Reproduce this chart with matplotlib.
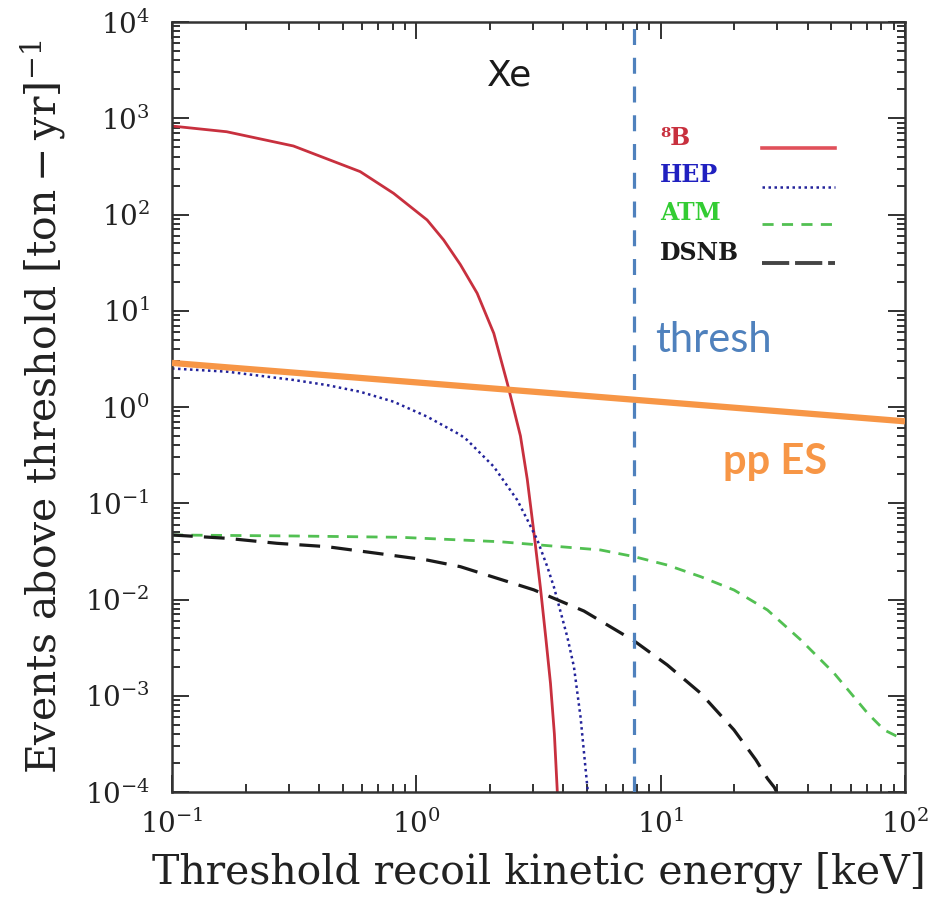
import matplotlib
matplotlib.use("Agg")
import matplotlib.pyplot as plt
from matplotlib.ticker import LogLocator, LogFormatterMathtext, NullFormatter

plt.rcParams['font.family'] = ['DejaVu Serif']
plt.rcParams['mathtext.fontset'] = 'dejavuserif'

# ---- data ----
b8_x = [0.10, 0.1675, 0.314, 0.589, 0.807, 1.107, 1.294, 1.514, 1.774, 2.075, 2.355, 2.667,
        2.844, 3.027, 3.221, 3.388, 3.540, 3.673, 3.776]
b8_y = [830, 724, 515, 279, 166, 87.7, 54.3, 30.2, 15.2, 5.83, 1.78, 0.501,
        0.178, 0.0501, 0.0132, 0.00398, 0.00135, 0.0004, 0.0001]

hep_x = [0.100, 0.1675, 0.314, 0.4305, 0.589, 0.807, 1.107, 1.514, 1.614, 2.075, 2.588, 2.844,
         3.126, 3.436, 3.656, 4.150, 4.416, 4.699, 4.932, 5.035]
hep_y = [2.51, 2.33, 1.91, 1.69, 1.44, 1.135, 0.794, 0.513, 0.454, 0.240, 0.108, 0.0676,
         0.0417, 0.0219, 0.0135, 0.00407, 0.0020, 0.000603, 0.00017, 0.0001]

atm_x = [0.10, 0.316, 0.859, 2.208, 5.675, 7.78, 10.64, 14.59, 19.95, 27.35, 37.5, 51.3,
         70.3, 82.2, 93.3, 100]
atm_y = [0.0468, 0.0457, 0.0443, 0.0398, 0.0327, 0.0279, 0.0228, 0.01726, 0.01256, 0.00778,
         0.00379, 0.00171, 0.000658, 0.000441, 0.000376, 0.000363]

dsnb_x = [0.10, 0.1675, 0.2685, 0.4305, 0.690, 1.107, 1.514, 3.027, 4.853, 7.78, 10.64, 14.59,
          19.95, 24.55, 27.35, 29.17, 29.85]
dsnb_y = [0.0468, 0.04325, 0.03837, 0.0354, 0.0302, 0.0257, 0.02193, 0.01259, 0.00759, 0.00372,
          0.00209, 0.00106, 0.000442, 0.000215, 0.000138, 0.000112, 0.0001]

pp_x = [0.1, 100]
pp_y = [2.87, 0.71]

thresh_x = 7.8

legend_labels = ["\u2078B", "HEP", "ATM", "DSNB"]

# ---- styles ----
c_red = '#c8303e'
c_blue = '#23239a'
c_green = '#52c052'
c_black = '#1a1a1a'
c_orange = '#F79646'
c_thresh = '#4F81BD'

fig = plt.figure(figsize=(9.42, 9.14), dpi=100)
ax = fig.add_axes([172/942, (914-792)/914, (905-172)/942, (792-22)/914])
ax.set_xscale('log')
ax.set_yscale('log')
ax.set_xlim(0.1, 100)
ax.set_ylim(1e-4, 1e4)

ax.plot(b8_x, b8_y, color=c_red, lw=2.0, solid_capstyle='butt', solid_joinstyle='round')
ax.plot(hep_x, hep_y, color=c_blue, lw=1.8, linestyle=(0, (1, 1.4)))
ax.plot(atm_x, atm_y, color=c_green, lw=2.0, linestyle=(0, (4, 3)))
ax.plot(dsnb_x, dsnb_y, color=c_black, lw=2.3, linestyle=(0, (6.5, 3.5)))
ax.plot(pp_x, pp_y, color=c_orange, lw=4.5, solid_capstyle='butt', zorder=4)
ax.axvline(thresh_x, color=c_thresh, lw=2.3, linestyle=(0, (5, 4)), zorder=5)

# ticks
for axis in (ax.xaxis, ax.yaxis):
    axis.set_major_locator(LogLocator(base=10, numticks=20))
    axis.set_minor_locator(LogLocator(base=10, subs=range(2, 10), numticks=100))
    axis.set_major_formatter(LogFormatterMathtext())
    axis.set_minor_formatter(NullFormatter())
ax.tick_params(which='both', direction='in', top=True, right=True, width=1.3, colors='#222222')
ax.tick_params(which='major', length=12, labelsize=20)
ax.tick_params(axis='x', which='major', pad=13)
ax.tick_params(axis='y', which='major', pad=16)
ax.tick_params(which='minor', length=6)
for s in ax.spines.values():
    s.set_linewidth(1.8)
    s.set_color('#333333')

ax.set_xlabel("Threshold recoil kinetic energy [keV]", fontsize=29.5, labelpad=9, color='#222222')
ax.set_ylabel(r"Events above threshold [$\mathrm{ton-yr}$]$^{-1}$", fontsize=29.5, labelpad=11, color='#222222')

# texts
ax.text(0.461, 0.931, "Xe", transform=ax.transAxes, fontsize=26, ha='center', va='center',
        color='#1a1a1a', family='DejaVu Sans')
ax.text(0.659, 0.587, "thresh", transform=ax.transAxes, fontsize=30, ha='left', va='center',
        color=c_thresh, family='Lato')
ax.text(0.752, 0.4286, "pp ES", transform=ax.transAxes, fontsize=30, ha='left', va='center',
        color=c_orange, family='Lato', fontweight='bold')

# manual legend (key placed in axes fraction)
leg_colors = [c_red, '#2020c0', '#33cc33', c_black]
leg_styles = ['-', (0, (1, 1.4)), (0, (4, 3)), (0, (7, 1.5))]
leg_lw = [2.6, 1.8, 2.0, 2.8]
line_colors = ['#e0505a', c_blue, c_green, '#444444']
text_y = [0.849, 0.801, 0.752, 0.700]
line_y = [0.836, 0.786, 0.738, 0.687]
for lab, tc, lc, ls, lw, ty, ly in zip(legend_labels, leg_colors, line_colors, leg_styles, leg_lw, text_y, line_y):
    ax.text(0.666, ty, lab, transform=ax.transAxes, fontsize=17, fontweight='bold',
            color=tc, ha='left', va='center')
    ax.plot([0.805, 0.905], [ly, ly], transform=ax.transAxes, color=lc, lw=lw, linestyle=ls)

fig.savefig("out.png", dpi=100)
